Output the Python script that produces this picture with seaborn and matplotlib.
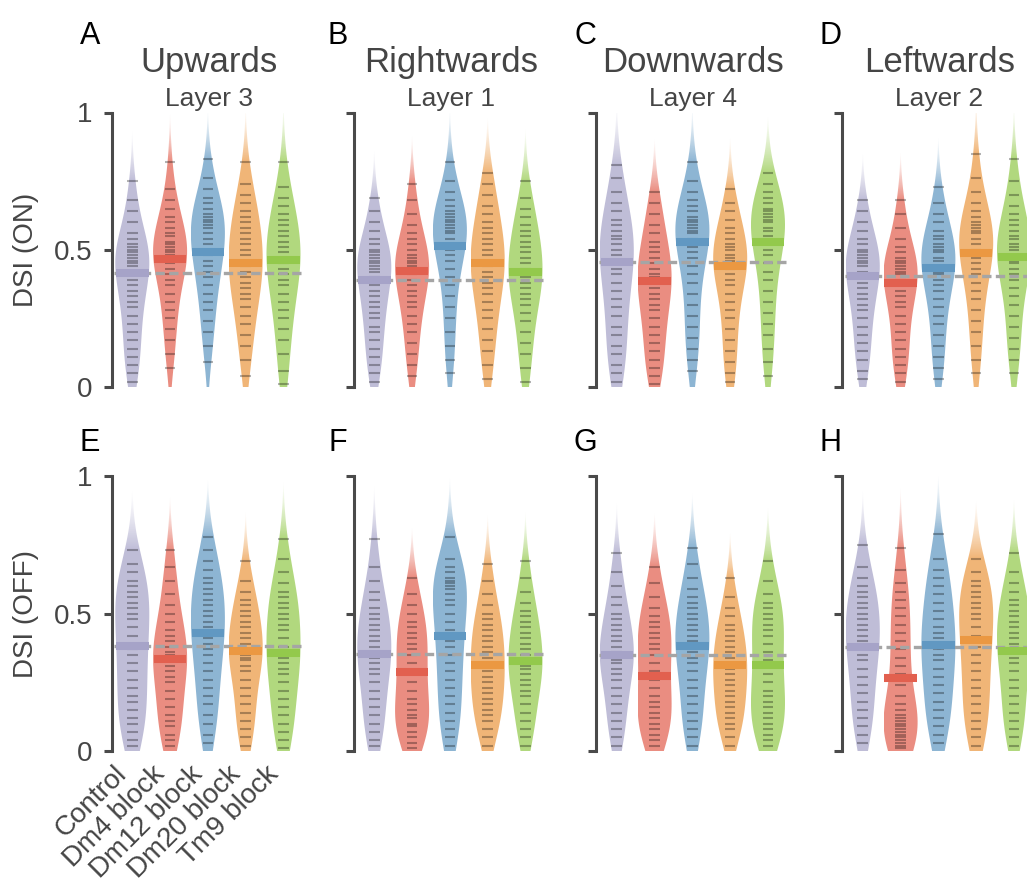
import numpy as np
import pandas as pd
import matplotlib
matplotlib.use("Agg")
import matplotlib.pyplot as plt
from matplotlib.colors import to_rgb
import seaborn as sns

# ---------------------------------------------------------------- data
groups = ["Control", "Dm4 block", "Dm12 block", "Dm20 block", "Tm9 block"]
directions = ["Upwards", "Rightwards", "Downwards", "Leftwards"]
layers = ["Layer 3", "Layer 1", "Layer 4", "Layer 2"]
letters_on = ["A", "B", "C", "D"]
letters_off = ["E", "F", "G", "H"]

# DSI values per group (ON pathway)
on_upwards = [
    [0.02, 0.05, 0.08, 0.11, 0.14, 0.17, 0.2, 0.23, 0.26, 0.29, 0.31, 0.33, 0.35, 0.37, 0.39, 0.41,
     0.42, 0.44, 0.45, 0.46, 0.47, 0.48, 0.49, 0.5, 0.51, 0.52, 0.54, 0.56, 0.6, 0.64, 0.68, 0.75],
    [0.07, 0.12, 0.17, 0.21, 0.25, 0.28, 0.31, 0.34, 0.37, 0.39, 0.41, 0.43, 0.45, 0.46, 0.47, 0.48,
     0.49, 0.5, 0.51, 0.52, 0.53, 0.55, 0.56, 0.58, 0.6, 0.62, 0.65, 0.68, 0.72, 0.82],
    [0.09, 0.15, 0.2, 0.24, 0.28, 0.31, 0.34, 0.37, 0.4, 0.42, 0.44, 0.46, 0.48, 0.49, 0.5, 0.52,
     0.54, 0.56, 0.58, 0.59, 0.6, 0.61, 0.62, 0.63, 0.65, 0.67, 0.69, 0.72, 0.76, 0.83],
    [0.04, 0.1, 0.15, 0.19, 0.23, 0.26, 0.29, 0.32, 0.34, 0.36, 0.38, 0.4, 0.42, 0.44, 0.45, 0.46,
     0.48, 0.5, 0.52, 0.54, 0.56, 0.58, 0.6, 0.62, 0.64, 0.67, 0.7, 0.74, 0.82],
    [0.01, 0.06, 0.12, 0.17, 0.21, 0.25, 0.28, 0.31, 0.34, 0.37, 0.39, 0.41, 0.43, 0.45, 0.46, 0.47,
     0.49, 0.51, 0.53, 0.55, 0.57, 0.59, 0.61, 0.63, 0.66, 0.69, 0.73, 0.82],
]
on_rightwards = [
    [0.02, 0.05, 0.08, 0.11, 0.14, 0.17, 0.2, 0.22, 0.25, 0.27, 0.29, 0.31, 0.33, 0.35, 0.37, 0.39,
     0.4, 0.42, 0.43, 0.44, 0.45, 0.46, 0.47, 0.48, 0.49, 0.5, 0.52, 0.54, 0.57, 0.6, 0.64, 0.69],
    [0.04, 0.08, 0.12, 0.16, 0.2, 0.23, 0.26, 0.29, 0.31, 0.33, 0.35, 0.37, 0.39, 0.41, 0.42, 0.43,
     0.44, 0.45, 0.46, 0.47, 0.48, 0.5, 0.52, 0.54, 0.56, 0.59, 0.63, 0.68, 0.74],
    [0.05, 0.1, 0.15, 0.2, 0.25, 0.29, 0.33, 0.37, 0.4, 0.43, 0.46, 0.48, 0.5, 0.51, 0.52, 0.54,
     0.56, 0.57, 0.58, 0.59, 0.6, 0.61, 0.62, 0.63, 0.64, 0.66, 0.68, 0.71, 0.75, 0.82],
    [0.03, 0.08, 0.13, 0.17, 0.21, 0.25, 0.28, 0.31, 0.34, 0.36, 0.38, 0.4, 0.42, 0.44, 0.45, 0.46,
     0.48, 0.5, 0.52, 0.54, 0.56, 0.58, 0.6, 0.63, 0.66, 0.7, 0.74, 0.78],
    [0.02, 0.07, 0.12, 0.16, 0.2, 0.24, 0.27, 0.3, 0.32, 0.34, 0.36, 0.38, 0.4, 0.41, 0.42, 0.43,
     0.45, 0.47, 0.49, 0.51, 0.53, 0.55, 0.57, 0.59, 0.62, 0.65, 0.69, 0.75],
]
on_downwards = [
    [0.02, 0.05, 0.08, 0.12, 0.15, 0.19, 0.22, 0.26, 0.29, 0.32, 0.35, 0.38, 0.41, 0.43, 0.45, 0.46,
     0.48, 0.5, 0.52, 0.54, 0.55, 0.57, 0.59, 0.61, 0.64, 0.67, 0.71, 0.76, 0.81],
    [0.01, 0.04, 0.07, 0.1, 0.13, 0.16, 0.19, 0.22, 0.25, 0.28, 0.3, 0.32, 0.34, 0.36, 0.38, 0.39,
     0.4, 0.41, 0.43, 0.45, 0.47, 0.49, 0.51, 0.53, 0.56, 0.59, 0.63, 0.67, 0.71],
    [0.06, 0.1, 0.14, 0.18, 0.22, 0.26, 0.3, 0.34, 0.38, 0.41, 0.44, 0.47, 0.49, 0.51, 0.53, 0.54,
     0.56, 0.57, 0.58, 0.59, 0.6, 0.61, 0.62, 0.64, 0.66, 0.68, 0.71, 0.75, 0.82],
    [0.02, 0.05, 0.09, 0.13, 0.17, 0.21, 0.25, 0.28, 0.31, 0.34, 0.37, 0.39, 0.41, 0.43, 0.44, 0.45,
     0.46, 0.47, 0.48, 0.5, 0.51, 0.52, 0.54, 0.56, 0.58, 0.61, 0.64, 0.67, 0.72],
    [0.04, 0.09, 0.14, 0.19, 0.23, 0.27, 0.31, 0.35, 0.39, 0.42, 0.45, 0.48, 0.5, 0.52, 0.53, 0.55,
     0.57, 0.58, 0.6, 0.61, 0.62, 0.63, 0.64, 0.65, 0.67, 0.69, 0.71, 0.74, 0.78],
]
on_leftwards = [
    [0.03, 0.06, 0.1, 0.13, 0.16, 0.19, 0.22, 0.25, 0.28, 0.3, 0.32, 0.34, 0.36, 0.38, 0.4, 0.41,
     0.42, 0.44, 0.45, 0.46, 0.47, 0.48, 0.49, 0.5, 0.52, 0.54, 0.57, 0.6, 0.64, 0.68],
    [0.02, 0.05, 0.08, 0.11, 0.14, 0.17, 0.2, 0.23, 0.26, 0.29, 0.31, 0.33, 0.35, 0.37, 0.38, 0.39,
     0.41, 0.42, 0.43, 0.44, 0.45, 0.46, 0.47, 0.49, 0.51, 0.54, 0.58, 0.63, 0.68],
    [0.03, 0.07, 0.11, 0.15, 0.19, 0.23, 0.26, 0.29, 0.32, 0.35, 0.37, 0.39, 0.41, 0.42, 0.43, 0.44,
     0.46, 0.47, 0.49, 0.5, 0.51, 0.52, 0.54, 0.55, 0.57, 0.6, 0.63, 0.67, 0.73],
    [0.05, 0.1, 0.15, 0.2, 0.24, 0.28, 0.32, 0.35, 0.38, 0.41, 0.43, 0.45, 0.47, 0.48, 0.49, 0.5,
     0.52, 0.54, 0.56, 0.57, 0.58, 0.59, 0.6, 0.62, 0.64, 0.67, 0.71, 0.76, 0.85],
    [0.05, 0.1, 0.14, 0.18, 0.22, 0.26, 0.3, 0.33, 0.36, 0.39, 0.41, 0.43, 0.45, 0.46, 0.47, 0.48,
     0.5, 0.51, 0.52, 0.54, 0.55, 0.57, 0.59, 0.61, 0.63, 0.66, 0.7, 0.75, 0.83],
]

# DSI values per group (OFF pathway)
off_upwards = [
    [0.02, 0.04, 0.07, 0.1, 0.12, 0.15, 0.18, 0.2, 0.23, 0.26, 0.29, 0.32, 0.35, 0.37, 0.39, 0.42,
     0.45, 0.48, 0.5, 0.52, 0.54, 0.56, 0.58, 0.6, 0.62, 0.65, 0.68, 0.73],
    [0.02, 0.04, 0.06, 0.09, 0.11, 0.13, 0.16, 0.19, 0.22, 0.25, 0.27, 0.29, 0.31, 0.33, 0.34, 0.35,
     0.36, 0.38, 0.4, 0.42, 0.44, 0.47, 0.5, 0.53, 0.57, 0.62, 0.67, 0.73],
    [0.03, 0.06, 0.1, 0.13, 0.17, 0.2, 0.23, 0.26, 0.29, 0.32, 0.35, 0.37, 0.39, 0.41, 0.43, 0.45,
     0.47, 0.49, 0.51, 0.53, 0.55, 0.57, 0.59, 0.61, 0.63, 0.66, 0.69, 0.73, 0.78],
    [0.02, 0.05, 0.08, 0.11, 0.14, 0.17, 0.2, 0.23, 0.26, 0.29, 0.31, 0.33, 0.34, 0.35, 0.36, 0.37,
     0.39, 0.41, 0.43, 0.45, 0.47, 0.49, 0.51, 0.53, 0.55, 0.58, 0.62, 0.69],
    [0.01, 0.04, 0.07, 0.1, 0.13, 0.16, 0.19, 0.22, 0.25, 0.28, 0.3, 0.32, 0.34, 0.35, 0.36, 0.38,
     0.41, 0.44, 0.46, 0.48, 0.5, 0.52, 0.54, 0.56, 0.58, 0.61, 0.65, 0.7, 0.77],
]
off_rightwards = [
    [0.02, 0.04, 0.07, 0.1, 0.13, 0.16, 0.19, 0.22, 0.25, 0.28, 0.3, 0.32, 0.34, 0.35, 0.36, 0.38,
     0.4, 0.42, 0.44, 0.46, 0.48, 0.5, 0.52, 0.55, 0.58, 0.62, 0.67, 0.77],
    [0.01, 0.03, 0.05, 0.07, 0.09, 0.1, 0.12, 0.13, 0.15, 0.17, 0.19, 0.22, 0.25, 0.28, 0.29, 0.32,
     0.35, 0.37, 0.39, 0.41, 0.43, 0.45, 0.47, 0.5, 0.53, 0.57, 0.63],
    [0.02, 0.05, 0.08, 0.11, 0.14, 0.17, 0.2, 0.23, 0.26, 0.29, 0.32, 0.35, 0.38, 0.4, 0.42, 0.44,
     0.47, 0.5, 0.53, 0.55, 0.57, 0.59, 0.6, 0.61, 0.62, 0.63, 0.65, 0.67, 0.7, 0.78],
    [0.02, 0.05, 0.08, 0.11, 0.13, 0.15, 0.17, 0.19, 0.21, 0.23, 0.25, 0.27, 0.29, 0.31, 0.32, 0.34,
     0.36, 0.38, 0.4, 0.42, 0.44, 0.46, 0.48, 0.5, 0.53, 0.57, 0.62, 0.68],
    [0.02, 0.05, 0.08, 0.11, 0.14, 0.17, 0.2, 0.22, 0.24, 0.26, 0.28, 0.3, 0.31, 0.32, 0.33, 0.35,
     0.37, 0.39, 0.41, 0.43, 0.45, 0.47, 0.49, 0.51, 0.54, 0.58, 0.63, 0.69],
]
off_downwards = [
    [0.02, 0.05, 0.08, 0.11, 0.14, 0.17, 0.2, 0.23, 0.26, 0.28, 0.3, 0.32, 0.33, 0.34, 0.35, 0.36,
     0.38, 0.4, 0.42, 0.44, 0.46, 0.48, 0.5, 0.53, 0.56, 0.6, 0.65, 0.72],
    [0.02, 0.04, 0.06, 0.08, 0.1, 0.12, 0.14, 0.16, 0.18, 0.2, 0.23, 0.26, 0.29, 0.32, 0.35, 0.37,
     0.39, 0.41, 0.43, 0.45, 0.47, 0.49, 0.52, 0.56, 0.61, 0.67],
    [0.02, 0.05, 0.08, 0.11, 0.14, 0.17, 0.2, 0.23, 0.26, 0.29, 0.32, 0.34, 0.36, 0.37, 0.38, 0.4,
     0.42, 0.44, 0.46, 0.48, 0.5, 0.52, 0.54, 0.56, 0.59, 0.63, 0.68, 0.74],
    [0.02, 0.05, 0.08, 0.1, 0.12, 0.14, 0.16, 0.18, 0.2, 0.22, 0.24, 0.26, 0.28, 0.3, 0.31, 0.32,
     0.34, 0.36, 0.38, 0.4, 0.42, 0.44, 0.46, 0.49, 0.52, 0.56, 0.63],
    [0.02, 0.04, 0.06, 0.08, 0.1, 0.12, 0.14, 0.16, 0.18, 0.2, 0.22, 0.25, 0.28, 0.31, 0.33, 0.36,
     0.39, 0.42, 0.44, 0.46, 0.48, 0.5, 0.52, 0.54, 0.57, 0.62, 0.69],
]
off_leftwards = [
    [0.03, 0.06, 0.09, 0.12, 0.15, 0.18, 0.21, 0.24, 0.27, 0.3, 0.33, 0.35, 0.37, 0.38, 0.4, 0.42,
     0.44, 0.46, 0.48, 0.5, 0.52, 0.54, 0.56, 0.58, 0.6, 0.63, 0.67, 0.75],
    [0.01, 0.02, 0.03, 0.04, 0.05, 0.06, 0.07, 0.08, 0.09, 0.1, 0.11, 0.12, 0.13, 0.15, 0.17, 0.2,
     0.24, 0.28, 0.31, 0.34, 0.37, 0.4, 0.43, 0.46, 0.49, 0.52, 0.55, 0.58, 0.61, 0.66, 0.74],
    [0.03, 0.06, 0.09, 0.12, 0.15, 0.18, 0.21, 0.24, 0.27, 0.3, 0.33, 0.35, 0.37, 0.39, 0.41, 0.43,
     0.45, 0.48, 0.51, 0.54, 0.57, 0.6, 0.63, 0.66, 0.7, 0.79],
    [0.02, 0.05, 0.08, 0.11, 0.14, 0.17, 0.2, 0.23, 0.26, 0.29, 0.32, 0.35, 0.38, 0.4, 0.42, 0.45,
     0.48, 0.5, 0.52, 0.54, 0.56, 0.58, 0.6, 0.62, 0.65, 0.7],
    [0.02, 0.05, 0.08, 0.11, 0.14, 0.17, 0.2, 0.23, 0.26, 0.29, 0.32, 0.34, 0.36, 0.37, 0.39, 0.41,
     0.43, 0.45, 0.47, 0.49, 0.51, 0.53, 0.55, 0.58, 0.61, 0.65, 0.72],
]

# Summary value drawn as the thick bar (per direction, per group)
center_on = [
    [0.416, 0.466, 0.492, 0.450, 0.461],
    [0.390, 0.422, 0.512, 0.452, 0.419],
    [0.456, 0.385, 0.530, 0.439, 0.530],
    [0.405, 0.379, 0.435, 0.488, 0.472],
]
center_off = [
    [0.381, 0.336, 0.428, 0.362, 0.355],
    [0.354, 0.286, 0.420, 0.314, 0.326],
    [0.348, 0.272, 0.383, 0.312, 0.312],
    [0.378, 0.267, 0.386, 0.402, 0.363],
]

palette = ["#a6a3c8", "#e2604f", "#6198c2", "#eb9842", "#93c94c"]

# ---------------------------------------------------------------- style
sns.set_style("white")
plt.rcParams["font.family"] = ["Liberation Sans", "DejaVu Sans"]
TEXT = "#454545"
SPINE = "#4a4a4a"

W, H = 1027, 881
fig = plt.figure(figsize=(W / 100, H / 100), dpi=100)

col_left = [111.5, 353.5, 596.0, 842.0]
row_top = [112.5, 476.0]
row_bottom = [387.0, 751.0]
unit = 37.8
XLIM = (-0.55, 4.6)
ax_w = (XLIM[1] - XLIM[0]) * unit

letter_x = [90, 338, 585, 831]
letter_base = [44, 451]
ylabel_text = ["DSI (ON)", "DSI (OFF)"]


def fade_violins(ax, values):
    """Replace each violin body with a gradient that fades out above the data."""
    for poly in list(ax.collections):
        path = poly.get_paths()[0]
        v = path.vertices
        x0, x1 = v[:, 0].min(), v[:, 0].max()
        y0, y1 = v[:, 1].min(), v[:, 1].max()
        i = int(round((x0 + x1) / 2))
        top = max(values[i])
        ys = np.linspace(y0, y1, 800)
        frac = np.clip((y1 - ys) / max(y1 - top, 1e-6), 0, 1) ** 1.3
        alpha = 0.72 * np.where(ys <= top, 1.0, frac)
        rgba = np.zeros((len(ys), 2, 4))
        rgba[:, :, :3] = to_rgb(palette[i])
        rgba[:, :, 3] = alpha[:, None]
        im = ax.imshow(rgba, extent=(x0, x1, y0, y1), origin="lower",
                       aspect="auto", interpolation="nearest", zorder=1)
        im.set_clip_path(path, ax.transData)
        poly.remove()


def draw_panel(ax, values, centers, show_y, show_x):
    records = [(g, v) for g, vals in zip(groups, values) for v in vals]
    df = pd.DataFrame(records, columns=["group", "dsi"])
    sns.violinplot(data=df, x="group", y="dsi", hue="group", order=groups,
                   hue_order=groups, palette=palette, inner=None, cut=2,
                   density_norm="width", width=0.9, linewidth=0,
                   saturation=1, legend=False, ax=ax)
    fade_violins(ax, values)

    for i, vals in enumerate(values):
        ax.hlines(vals, i - 0.14, i + 0.14, colors="black", alpha=0.3,
                  lw=1.5, zorder=2)
    ax.plot([-0.48, 4.48], [centers[0], centers[0]], color="#a5a5a5",
            lw=2.4, ls=(0, (2.8, 1.3)), zorder=3)
    for i, c in enumerate(centers):
        ax.hlines(c, i - 0.43, i + 0.43, colors=palette[i], lw=5.8, zorder=4)

    ax.set_xlim(*XLIM)
    ax.set_ylim(0, 1)
    for s in ["top", "right", "bottom"]:
        ax.spines[s].set_visible(False)
    ax.spines["left"].set_color(SPINE)
    ax.spines["left"].set_linewidth(2.2)
    ax.set_yticks([0, 0.5, 1])
    ax.tick_params(axis="y", length=6, width=2.2, color=SPINE, direction="out",
                   pad=8, labelsize=20, labelcolor=TEXT, left=True)
    ax.set_yticklabels(["0", "0.5", "1"] if show_y else [])
    ax.set_xticks(range(len(groups)))
    ax.tick_params(axis="x", length=0, pad=7)
    if show_x:
        ax.set_xticklabels(groups, rotation=45, ha="right", va="top",
                           fontsize=20, color=TEXT)
    else:
        ax.set_xticklabels([])
    ax.set_xlabel("")
    ax.set_ylabel("")


panels_on = [on_upwards, on_rightwards, on_downwards, on_leftwards]
panels_off = [off_upwards, off_rightwards, off_downwards, off_leftwards]

for r, (panel_set, centers_set, letters) in enumerate(
        [(panels_on, center_on, letters_on), (panels_off, center_off, letters_off)]):
    for c in range(4):
        left = col_left[c]
        ax = fig.add_axes([left / W, 1 - row_bottom[r] / H, ax_w / W,
                           (row_bottom[r] - row_top[r]) / H])
        draw_panel(ax, panel_set[c], centers_set[c], show_y=(c == 0),
                   show_x=(r == 1 and c == 0))
        fig.text(letter_x[c] / W, 1 - letter_base[r] / H, letters[c],
                 ha="center", va="baseline", fontsize=22, color="black")
        if r == 0:
            xc = (left + ax_w / 2) / W
            fig.text(xc, 1 - 72 / H, directions[c], ha="center",
                     va="baseline", fontsize=25, color=TEXT)
            fig.text(xc, 1 - 106 / H, layers[c], ha="center",
                     va="baseline", fontsize=19, color=TEXT)
    fig.text(26 / W, 1 - (row_top[r] + row_bottom[r]) / 2 / H, ylabel_text[r],
             rotation=90, ha="center", va="center", fontsize=20, color=TEXT)

fig.savefig("out.png", dpi=100)
